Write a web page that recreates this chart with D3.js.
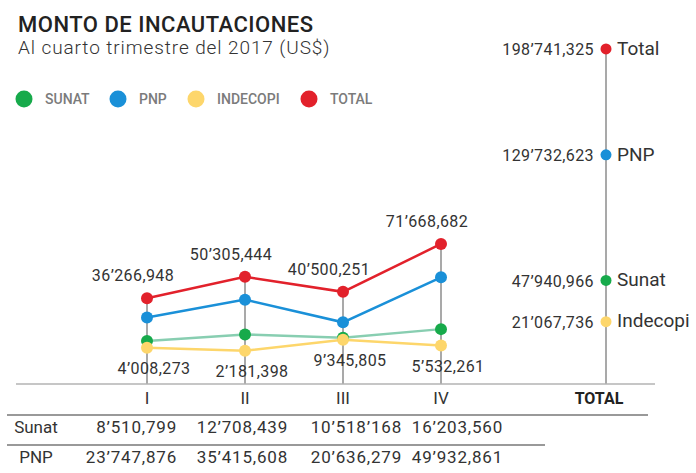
<!DOCTYPE html>
<html>
<head>
<meta charset="utf-8">
<script src="https://cdn.jsdelivr.net/npm/d3@7"></script>
<style>
  body { margin: 0; background: #fff; }
  svg { font-family: Roboto, "Noto Sans", sans-serif; }
</style>
</head>
<body>
<svg id="chart" width="696" height="473"></svg>
<script>
// datos (US$)
const quarters = ['I', 'II', 'III', 'IV'];
const sunat    = [8510799, 12708439, 10518168, 16203560];
const pnp      = [23747876, 35415608, 20636279, 49932861];
const indecopi = [4008273, 2181398, 9345805, 5532261];
const total    = [36266948, 50305444, 40500251, 71668682];

const totalNames  = ['Total', 'PNP', 'Sunat', 'Indecopi'];
const totalValues = [198741325, 129732623, 47940966, 21067736];

const legendNames = ['SUNAT', 'PNP', 'INDECOPI', 'TOTAL'];
const tableRows   = ['Sunat', 'PNP'];
const tableText   = [
  ['8’510,799', '12’708,439', '10’518’168', '16’203,560'],
  ['23’747,876', '35’415,608', '20’636,279', '49’932,861']
];

const colors = { SUNAT: '#17aa4b', PNP: '#1a90d8', INDECOPI: '#fdd66b', TOTAL: '#e2212b' };
const nameColor = { Total: colors.TOTAL, PNP: colors.PNP, Sunat: colors.SUNAT, Indecopi: colors.INDECOPI };
const grey = '#a9a9a9', ink = '#333';

// formato 36’266,948
const fmt = v => {
  const s = d3.format(',')(v).split(',');
  if (s.length < 3) return s.join(',');
  return s.slice(0, s.length - 2).join('’') + '’' + s[s.length - 2] + ',' + s[s.length - 1];
};

const svg = d3.select('#chart');
const x = d3.scalePoint().domain(quarters).range([147, 441]);
const y = d3.scaleLinear().domain([0, 200e6]).range([354, 47]);
const xTotal = 606, baseY = 384;

// título
svg.append('text').attr('x', 18).attr('y', 32)
  .attr('font-size', 22).attr('font-weight', 500).attr('letter-spacing', 0.5).attr('fill', '#222')
  .text('MONTO DE INCAUTACIONES');
svg.append('text').attr('x', 18).attr('y', 54)
  .attr('font-size', 19).attr('font-weight', 300).attr('letter-spacing', 0.9).attr('fill', ink)
  .text('Al cuarto trimestre del 2017 (US$)');

// leyenda
const legX = d3.scaleOrdinal().domain(legendNames).range([24, 118, 196, 309]);
const leg = svg.append('g').selectAll('g').data(legendNames).join('g')
  .attr('transform', d => `translate(${legX(d)},99)`);
leg.append('circle').attr('r', 8.5).attr('fill', d => colors[d]);
leg.append('text').attr('x', 21).attr('dy', '0.36em')
  .attr('font-size', 14).attr('font-weight', 500).attr('fill', '#7b7b7b')
  .text(d => d);

// líneas guía verticales
svg.append('g').selectAll('line').data(quarters).join('line')
  .attr('x1', d => x(d)).attr('x2', d => x(d))
  .attr('y1', (d, i) => y(total[i])).attr('y2', baseY)
  .attr('stroke', grey).attr('stroke-width', 2);
svg.append('line')
  .attr('x1', xTotal).attr('x2', xTotal)
  .attr('y1', y(totalValues[0])).attr('y2', baseY)
  .attr('stroke', grey).attr('stroke-width', 2);

// eje base
svg.append('line').attr('x1', 16).attr('x2', 655).attr('y1', baseY).attr('y2', baseY)
  .attr('stroke', '#b3b3b3').attr('stroke-width', 1.5);

// series
const series = [
  { key: 'SUNAT', vals: sunat, line: '#88ceb1' },
  { key: 'INDECOPI', vals: indecopi, line: colors.INDECOPI },
  { key: 'PNP', vals: pnp, line: colors.PNP },
  { key: 'TOTAL', vals: total, line: colors.TOTAL }
];
const line = d3.line().x((d, i) => x(quarters[i])).y(d => y(d));
series.forEach(s => {
  svg.append('path').datum(s.vals)
    .attr('d', line).attr('fill', 'none')
    .attr('stroke', s.line).attr('stroke-width', 2.5);
});
series.forEach(s => {
  svg.append('g').selectAll('circle').data(s.vals).join('circle')
    .attr('cx', (d, i) => x(quarters[i])).attr('cy', d => y(d))
    .attr('r', 6).attr('fill', colors[s.key]);
});

// etiquetas de valores
svg.append('g').selectAll('text').data(total).join('text')
  .attr('x', (d, i) => x(quarters[i]) - 14).attr('y', d => y(d) - 17)
  .attr('text-anchor', 'middle').attr('font-size', 16).attr('letter-spacing', 0.4)
  .attr('fill', ink).text(fmt);
svg.append('g').selectAll('text').data(indecopi).join('text')
  .attr('x', (d, i) => x(quarters[i]) + 7).attr('y', d => y(d) + 26)
  .attr('text-anchor', 'middle').attr('font-size', 16).attr('letter-spacing', 0.4)
  .attr('fill', ink).text(fmt);

// columna total
const tg = svg.append('g').selectAll('g').data(totalNames).join('g')
  .attr('transform', (d, i) => `translate(${xTotal},${y(totalValues[i])})`);
tg.append('circle').attr('r', 5.5).attr('fill', d => nameColor[d]);
tg.append('text').attr('x', -12).attr('dy', '0.4em').attr('text-anchor', 'end')
  .attr('font-size', 16).attr('letter-spacing', 0.4).attr('fill', ink)
  .text((d, i) => fmt(totalValues[i]));
tg.append('text').attr('x', 11).attr('dy', '0.3em')
  .attr('font-size', 19).attr('fill', ink).text(d => d);

// eje x
svg.append('g').selectAll('text').data(quarters).join('text')
  .attr('x', d => x(d)).attr('y', 404).attr('text-anchor', 'middle')
  .attr('font-size', 17).attr('fill', ink).text(d => d);
svg.append('text').attr('x', xTotal - 7).attr('y', 404).attr('text-anchor', 'middle')
  .attr('font-size', 16).attr('font-weight', 700).attr('fill', '#222').text('TOTAL');

// tabla
svg.append('line').attr('x1', 7).attr('x2', 648).attr('y1', 415).attr('y2', 415)
  .attr('stroke', '#999').attr('stroke-width', 2);
svg.append('line').attr('x1', 7).attr('x2', 545).attr('y1', 445).attr('y2', 445)
  .attr('stroke', '#999').attr('stroke-width', 2);
const tx = d3.scaleOrdinal().domain(quarters).range([177, 288, 402, 503]);
const rowY = d3.scalePoint().domain(tableRows).range([433, 463]);
tableRows.forEach((r, ri) => {
  svg.append('text').attr('x', 36).attr('y', rowY(r)).attr('text-anchor', 'middle')
    .attr('font-size', 17).attr('fill', ink).text(r);
  svg.append('g').selectAll('text').data(tableText[ri]).join('text')
    .attr('x', (d, i) => tx(quarters[i])).attr('y', rowY(r))
    .attr('text-anchor', 'end').attr('font-size', 17).attr('letter-spacing', 0.8)
    .attr('fill', ink).text(d => d);
});
</script>
</body>
</html>
